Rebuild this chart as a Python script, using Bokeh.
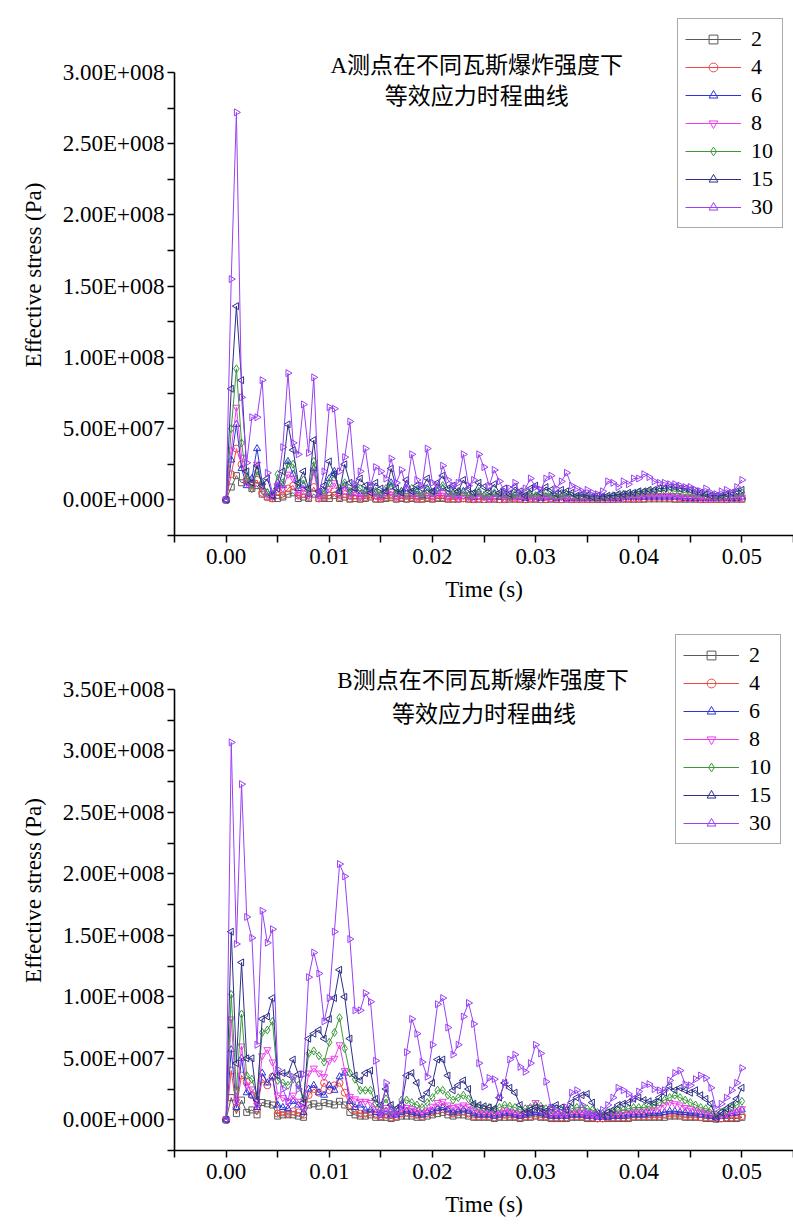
import math
from bokeh.plotting import figure
from bokeh.models import Range1d, FixedTicker, Label
from bokeh.layouts import column
from bokeh.embed import file_html
from bokeh.resources import INLINE

# ---------------- data (stress values in MPa = 1e6 Pa) ----------------
time_s = [round(i * 0.0005, 4) for i in range(101)]

series_names = ["2", "4", "6", "8", "10", "15", "30"]

A2 = [0, 9, 17, 12, 13, 8, 10, 4, 2, 1,
      1, 2, 4, 5, 1, 2, 1, 4, 1, 1,
      1, 3, 1, 2, 0.5, 1, 0.5, 1, 2, 0.5,
      0.5, 1, 1.5, 0.5, 1, 0.5, 1, 0.5, 0.5, 1,
      0.5, 1, 1, 0.5, 0.5, 0.5, 1, 0.5, 0.3, 0.5,
      0.3, 0.5, 0.5, 0.3, 0.3, 0.5, 0.5, 0.3, 0.3, 0.5,
      0.5, 0.3, 0.3, 0.5, 0.3, 0.3, 0.5, 0.3, 0.3, 0.3,
      0.3, 0.3, 0.3, 0.3, 0.3, 0.3, 0.5, 0.5, 0.5, 0.5,
      0.5, 0.5, 0.7, 0.7, 0.7, 0.7, 0.7, 0.5, 0.5, 0.5,
      0.5, 0.5, 0.3, 0.3, 0.3, 0.3, 0.3, 0.3, 0.5, 0.5,
      0.5]
A4 = [0, 18, 36, 25, 14, 10, 14, 5, 2, 1,
      6, 3, 8, 10, 3, 4, 2, 9, 1, 2,
      3, 6, 2, 4, 1, 3, 1, 2, 3, 1,
      1, 2, 3, 1, 2, 1, 2, 1, 1, 2,
      1, 2, 2, 1, 1, 1, 1, 1, 0.5, 1,
      0.5, 1, 1, 0.5, 0.5, 1, 1, 0.5, 0.5, 1,
      1, 0.5, 0.5, 1, 0.5, 0.5, 1, 0.5, 0.5, 0.5,
      0.5, 0.5, 0.5, 0.5, 0.5, 0.5, 1, 1, 1, 1,
      1, 1, 1.5, 1.5, 1.5, 1.5, 1.5, 1, 1, 1,
      1, 1, 0.5, 0.5, 0.5, 0.5, 0.5, 0.5, 1, 1,
      1]
A6 = [0, 28, 53, 22, 10, 15, 36, 12, 5, 3,
      12, 10, 27, 18, 8, 10, 4, 22, 4, 6,
      15, 20, 6, 10, 5, 8, 4, 6, 9, 5,
      3, 6, 12, 4, 6, 8, 4, 6, 3, 8,
      4, 6, 8, 4, 5, 3, 6, 3, 2, 5,
      3, 2, 4, 2, 3, 2, 3, 2, 1, 3,
      2, 1, 2, 2, 1, 2, 1, 1, 1, 1,
      1, 1, 1, 1, 1, 1, 1, 2, 2, 2,
      2, 2, 2, 2, 2, 2, 2, 2, 2, 1,
      1, 1, 1, 1, 1, 1, 1, 1, 1, 1,
      2]
A8 = [0, 35, 65, 30, 12, 8, 25, 10, 3, 2,
      10, 8, 18, 15, 4, 8, 3, 20, 2, 3,
      8, 12, 4, 9, 3, 6, 2, 4, 6, 3,
      2, 5, 6, 2, 4, 3, 5, 2, 3, 5,
      2, 4, 5, 2, 3, 1, 3, 2, 1, 3,
      2, 1, 2, 3, 1, 2, 2, 1, 2, 2,
      1, 2, 2, 1, 1, 2, 1, 1, 1, 1,
      1, 1, 1, 1, 1, 1, 2, 2, 2, 2,
      2, 3, 3, 3, 3, 3, 3, 3, 2, 2,
      2, 2, 1, 1, 1, 1, 1, 1, 2, 2,
      2]
A10 = [0, 50, 92, 40, 15, 8, 20, 12, 5, 3,
       18, 12, 25, 25, 10, 14, 6, 27, 5, 4,
       12, 18, 8, 12, 6, 10, 8, 5, 9, 6,
       4, 8, 10, 5, 6, 4, 8, 5, 3, 7,
       5, 8, 10, 6, 4, 6, 5, 3, 4, 6,
       3, 4, 5, 3, 4, 2, 4, 3, 5, 4,
       3, 4, 5, 3, 2, 3, 4, 3, 2, 3,
       2, 2, 1, 2, 2, 3, 3, 4, 4, 4,
       5, 5, 6, 6, 6, 7, 7, 6, 6, 5,
       5, 4, 4, 3, 3, 2, 2, 3, 3, 4,
       5]
A15 = [0, 78, 136, 84, 20, 12, 24, 10, 15, 3,
       8, 20, 53, 35, 12, 20, 8, 42, 6, 10,
       27, 18, 6, 25, 12, 8, 15, 10, 5, 12,
       8, 6, 22, 8, 5, 14, 6, 10, 8, 15,
       6, 12, 17, 8, 10, 6, 14, 8, 5, 12,
       9, 6, 11, 5, 8, 4, 9, 6, 3, 8,
       10, 5, 9, 7, 4, 7, 6, 5, 3, 4,
       3, 2, 3, 2, 3, 3, 4, 4, 5, 5,
       6, 6, 7, 7, 8, 8, 9, 9, 8, 8,
       7, 6, 5, 4, 3, 3, 3, 4, 5, 6,
       7]
A30 = [0, 155, 272, 72, 26, 58, 58, 84, 19, 5,
       10, 37, 89, 40, 32, 67, 33, 86, 4, 20,
       65, 64, 20, 30, 55, 11, 20, 36, 10, 23,
       20, 15, 29, 12, 21, 8, 32, 14, 10, 36,
       12, 8, 24, 14, 10, 12, 32, 10, 14, 32,
       23, 10, 21, 13, 6, 8, 12, 5, 8, 15,
       9, 7, 15, 17, 8, 13, 19, 10, 8, 6,
       7, 5, 4, 6, 13, 12, 9, 13, 11, 15,
       15, 18, 16, 13, 12, 12, 11, 11, 10, 9,
       9, 7, 6, 8, 5, 4, 6, 7, 5, 9,
       14]

B2 = [0, 18, 5, 16, 6, 8, 4, 14, 13, 12,
      3, 4, 4, 4, 3, 2, 12, 13, 11, 14,
      13, 12, 15, 12, 6, 4, 3, 3, 4, 2,
      2, 2, 1, 2, 3, 3, 3, 2, 2, 3,
      4, 5, 6, 4, 3, 4, 4, 3, 2, 2,
      2, 2, 1, 2, 2, 2, 2, 1, 2, 2,
      3, 2, 2, 1, 1, 1, 1, 2, 2, 2,
      1, 1, 1, 1, 1, 1, 1, 1, 1, 2,
      2, 2, 2, 2, 2, 2, 3, 3, 3, 2,
      2, 2, 2, 1, 1, 0.5, 1, 1, 1, 1,
      2]
B4 = [0, 40, 10, 36, 31, 20, 8, 33, 28, 35,
      5, 6, 5, 7, 6, 4, 20, 25, 22, 30,
      24, 28, 30, 22, 12, 8, 5, 5, 6, 4,
      3, 4, 2, 3, 5, 6, 5, 4, 3, 5,
      6, 8, 10, 7, 5, 6, 7, 5, 3, 3,
      3, 3, 2, 3, 4, 3, 3, 2, 3, 3,
      4, 3, 3, 2, 2, 2, 2, 3, 3, 3,
      2, 2, 1, 1, 2, 2, 2, 2, 2, 3,
      3, 3, 3, 3, 3, 4, 4, 4, 4, 3,
      3, 3, 2, 2, 2, 1, 1, 2, 2, 2,
      3]
B6 = [0, 57, 10, 50, 22, 20, 10, 38, 30, 35,
      12, 10, 9, 15, 12, 6, 25, 28, 22, 20,
      28, 24, 35, 38, 15, 10, 12, 8, 8, 6,
      5, 7, 4, 4, 6, 7, 6, 5, 4, 6,
      7, 9, 10, 8, 6, 7, 8, 7, 5, 4,
      4, 4, 3, 4, 5, 5, 4, 3, 4, 5,
      6, 5, 4, 3, 3, 3, 3, 4, 4, 4,
      3, 3, 2, 2, 2, 3, 3, 3, 4, 4,
      4, 4, 5, 5, 5, 6, 7, 7, 6, 6,
      5, 5, 4, 4, 3, 2, 3, 4, 5, 6,
      8]
B8 = [0, 82, 15, 60, 28, 25, 12, 52, 57, 47,
      20, 18, 15, 20, 15, 10, 38, 42, 38, 35,
      48, 50, 61, 40, 19, 17, 15, 15, 14, 9,
      6, 10, 5, 5, 9, 10, 9, 8, 6, 8,
      11, 14, 15, 12, 10, 11, 12, 11, 8, 7,
      6, 7, 5, 6, 8, 7, 6, 5, 6, 10,
      14, 10, 6, 5, 5, 4, 5, 6, 7, 6,
      5, 4, 3, 3, 4, 5, 5, 6, 6, 7,
      7, 7, 8, 8, 10, 12, 14, 13, 12, 10,
      9, 8, 7, 6, 5, 3, 4, 5, 6, 7,
      9]
B10 = [0, 102, 24, 86, 36, 33, 20, 71, 73, 80,
       32, 30, 28, 33, 28, 17, 54, 56, 52, 47,
       63, 71, 83, 58, 38, 33, 24, 24, 24, 13,
       9, 17, 8, 8, 16, 16, 14, 12, 10, 14,
       18, 24, 24, 20, 16, 18, 20, 17, 12, 10,
       9, 10, 8, 10, 12, 11, 10, 8, 9, 10,
       12, 11, 9, 8, 9, 8, 8, 9, 10, 10,
       9, 8, 6, 5, 6, 7, 8, 8, 9, 10,
       10, 10, 11, 12, 14, 16, 18, 20, 18, 16,
       14, 12, 10, 9, 8, 4, 6, 8, 10, 12,
       15]
B15 = [0, 153, 46, 128, 50, 50, 16, 82, 84, 99,
       36, 38, 37, 49, 37, 14, 66, 70, 73, 66,
       82, 99, 122, 100, 66, 36, 32, 38, 40, 17,
       12, 25, 12, 9, 12, 36, 38, 30, 17, 22,
       30, 49, 49, 36, 24, 28, 32, 25, 13, 12,
       11, 10, 9, 18, 30, 26, 22, 12, 6, 8,
       10, 9, 7, 10, 12, 10, 8, 14, 18, 20,
       21, 14, 5, 4, 6, 8, 12, 13, 14, 17,
       18, 16, 15, 14, 18, 22, 27, 24, 26, 24,
       22, 24, 20, 17, 13, 1, 6, 9, 12, 17,
       26]
B30 = [0, 307, 143, 273, 165, 148, 61, 170, 144, 155,
       41, 25, 15, 35, 25, 37, 116, 136, 119, 80,
       99, 153, 208, 198, 147, 89, 89, 103, 96, 48,
       4, 30, 8, 5, 12, 55, 82, 70, 47, 35,
       61, 94, 99, 75, 53, 61, 84, 95, 78, 46,
       27, 34, 33, 18, 30, 49, 53, 43, 39, 46,
       61, 54, 31, 10, 8, 6, 10, 22, 24, 12,
       6, 5, 4, 8, 12, 18, 26, 24, 21, 17,
       23, 28, 29, 25, 24, 24, 32, 38, 40, 29,
       28, 33, 36, 34, 26, 9, 13, 18, 24, 30,
       42]

x_ticks = [0.0, 0.01, 0.02, 0.03, 0.04, 0.05]
x_tick_labels = ["0.00", "0.01", "0.02", "0.03", "0.04", "0.05"]
x_minor = [-0.005, 0.005, 0.015, 0.025, 0.035, 0.045, 0.055]

yA_ticks = [0.0, 5e7, 1e8, 1.5e8, 2e8, 2.5e8, 3e8]
yA_labels = ["0.00E+000", "5.00E+007", "1.00E+008", "1.50E+008",
             "2.00E+008", "2.50E+008", "3.00E+008"]
yA_minor = [-2.5e7, 2.5e7, 7.5e7, 1.25e8, 1.75e8, 2.25e8, 2.75e8]

yB_ticks = [0.0, 5e7, 1e8, 1.5e8, 2e8, 2.5e8, 3e8, 3.5e8]
yB_labels = ["0.00E+000", "5.00E+007", "1.00E+008", "1.50E+008",
             "2.00E+008", "2.50E+008", "3.00E+008", "3.50E+008"]
yB_minor = [-2.5e7, 2.5e7, 7.5e7, 1.25e8, 1.75e8, 2.25e8, 2.75e8, 3.25e8]

titleA = ["A测点在不同瓦斯爆炸强度下", "等效应力时程曲线"]
titleB = ["B测点在不同瓦斯爆炸强度下", "等效应力时程曲线"]

# ---------------- styles ----------------
colors = ["#5a5a5a", "#f04848", "#2a36dc", "#f03cf0", "#3a9a3a", "#2e2e8a", "#9a40f5"]
markers = ["square", "circle", "triangle", "inverted_triangle", "diamond", "triangle", "triangle"]
angles = [0, 0, 0, 0, 0, math.pi / 2, -math.pi / 2]
sizes = [6, 7, 7, 7, 8, 7, 7]

SERIF = "Liberation Serif"
MIXED = "Liberation Serif, Noto Sans CJK SC"


def build(data, y_top, y_ticks, y_labels, y_minor, title, title_pos, legend_loc,
          top_border, axis_px, extra_px):
    # axis spans axis_px pixels from -2.5e7 to y_top; the frame extends extra_px
    # pixels higher so the legend / title (drawn inside the frame) are not clipped
    y_max = y_top + extra_px / axis_px * (y_top + 2.5e7)
    p = figure(frame_width=619, frame_height=axis_px + extra_px,
               min_border_left=174, min_border_right=0,
               min_border_top=top_border, min_border_bottom=80,
               x_range=Range1d(-0.005, 0.055), y_range=Range1d(-2.5e7, y_max),
               output_backend="svg", toolbar_location=None)
    p.grid.visible = False
    p.outline_line_color = None
    p.background_fill_color = "white"
    p.border_fill_color = "white"

    for name, vals, c, m, a, s in zip(series_names, data, colors, markers, angles, sizes):
        y = [v * 1e6 for v in vals]
        p.line(time_s, y, line_color=c, line_width=1, legend_label=name)
        p.scatter(time_s, y, marker=m, angle=a, size=s, line_color=c,
                  fill_color=None, line_width=1, legend_label=name)

    xa = p.xaxis[0]
    xa.ticker = FixedTicker(ticks=x_ticks, minor_ticks=x_minor)
    xa.major_label_overrides = dict(zip(x_ticks, x_tick_labels))
    ya = p.yaxis[0]
    ya.ticker = FixedTicker(ticks=y_ticks, minor_ticks=y_minor)
    ya.major_label_overrides = dict(zip(y_ticks, y_labels))
    ya.bounds = (-2.5e7, y_top)

    for ax in (xa, ya):
        ax.axis_line_width = 1.6
        ax.axis_line_color = "black"
        ax.major_tick_in = 0
        ax.minor_tick_in = 0
        ax.major_tick_out = 7
        ax.minor_tick_out = 7
        ax.major_tick_line_width = 1.5
        ax.minor_tick_line_width = 1.5
        ax.major_tick_line_color = "black"
        ax.minor_tick_line_color = "black"
        ax.major_label_text_font = SERIF
        ax.major_label_text_font_size = "23px"
        ax.major_label_text_color = "black"
        ax.axis_label_text_font = SERIF
        ax.axis_label_text_font_size = "23px"
        ax.axis_label_text_font_style = "normal"
        ax.axis_label_text_color = "black"
    xa.axis_label = "Time (s)"
    xa.major_label_standoff = 6
    xa.axis_label_standoff = 10
    ya.axis_label = "Effective stress (Pa)"
    ya.major_label_standoff = 3
    ya.axis_label_standoff = 14

    (x1, y1), (x2, y2) = title_pos
    p.add_layout(Label(x=x1, y=y1, text=title[0], text_align="center",
                       text_baseline="middle", text_font=MIXED,
                       text_font_size="23px", text_color="black"))
    p.add_layout(Label(x=x2, y=y2, text=title[1], text_align="center",
                       text_baseline="middle", text_font=MIXED,
                       text_font_size="23px", text_color="black"))

    lg = p.legend[0]
    lg.location = legend_loc
    lg.padding = 7
    lg.spacing = 2
    lg.margin = 0
    lg.label_height = 22
    lg.glyph_height = 22
    lg.glyph_width = 56
    lg.label_standoff = 10
    lg.label_width = 24
    lg.label_text_font = SERIF
    lg.label_text_font_size = "22px"
    lg.label_text_color = "black"
    lg.border_line_color = "#555555"
    lg.border_line_width = 1.5
    lg.background_fill_color = "white"
    lg.background_fill_alpha = 1
    return p


pA = build([A2, A4, A6, A8, A10, A15, A30], 3.0e8, yA_ticks, yA_labels, yA_minor,
           titleA, ((0.0243, 3.05e8), (0.0243, 2.83e8)), (503, 307), 14, 463, 58)
pB = build([B2, B4, B6, B8, B10, B15, B30], 3.5e8, yB_ticks, yB_labels, yB_minor,
           titleB, ((0.0249, 3.57e8), (0.0250, 3.30e8)), (501, 306), 15, 461, 59)

layout = column(pA, pB, spacing=0)
open("out.html", "w").write(file_html(layout, INLINE))
